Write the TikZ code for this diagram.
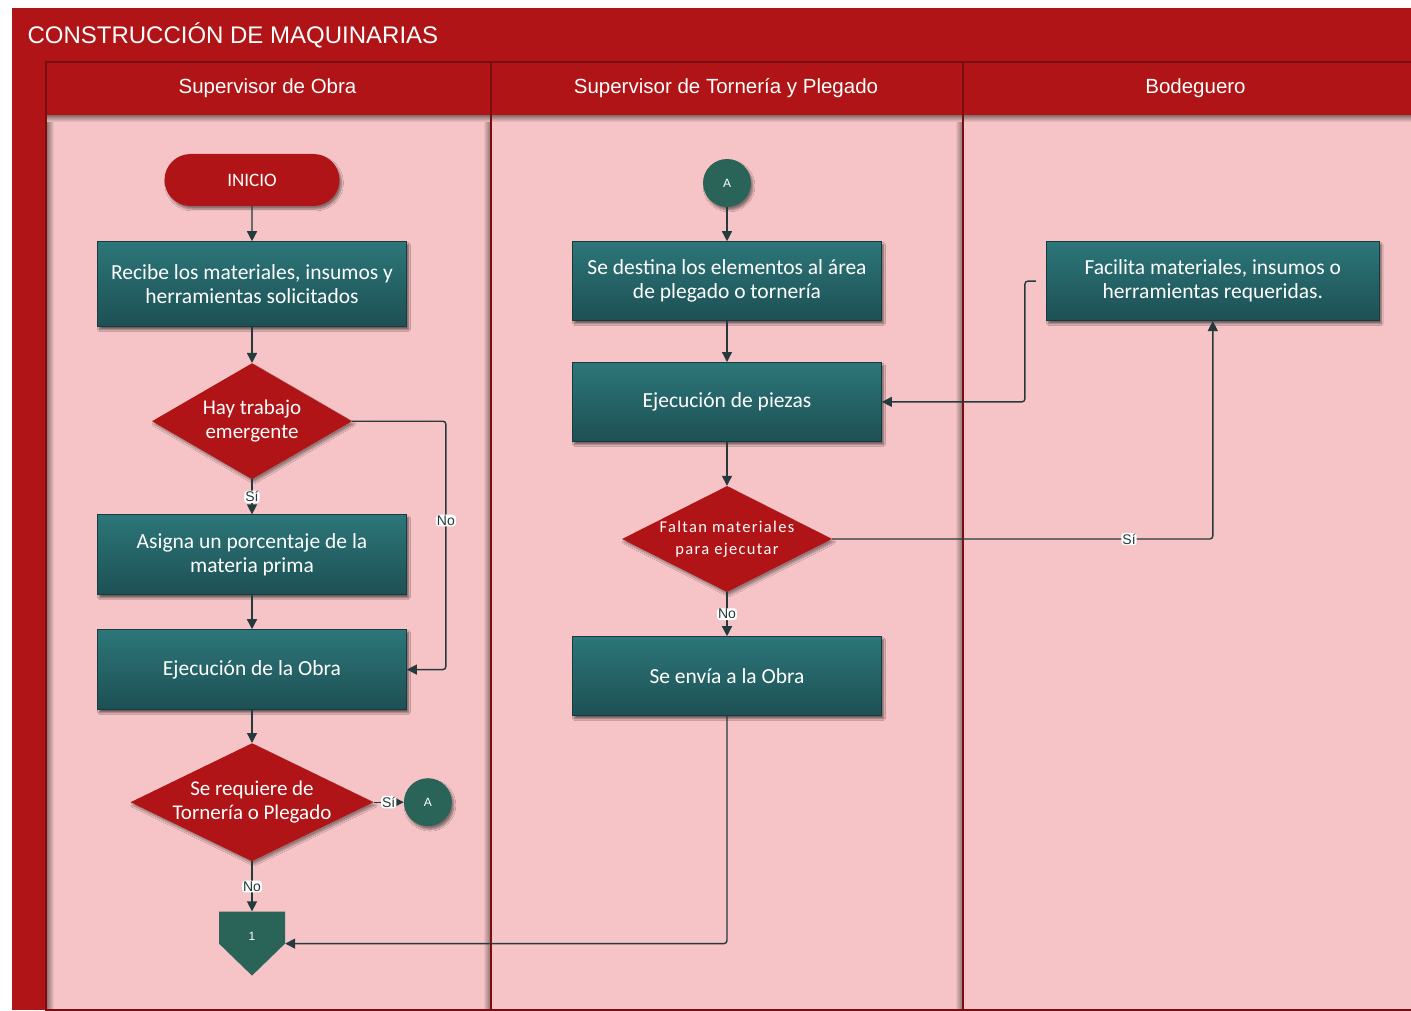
\documentclass[tikz,border=0pt]{standalone}
\usepackage{fontspec}
\setmainfont{Carlito}
\newfontfamily\arialf{Liberation Sans}
\usetikzlibrary{arrows.meta, positioning, shapes.geometric, shapes.misc, shadows.blur}

\definecolor{hdred}{RGB}{176,20,22}
\definecolor{laneline}{RGB}{120,14,16}
\definecolor{pinkbg}{RGB}{246,196,198}
\definecolor{tealtop}{RGB}{44,118,121}
\definecolor{tealbot}{RGB}{29,80,84}
\definecolor{tealedge}{RGB}{24,60,62}
\definecolor{circgreen}{RGB}{42,100,88}
\definecolor{flowline}{RGB}{36,58,60}

\begin{document}
\begin{tikzpicture}[x=1pt, y=-1pt,
    lanehead/.style={fill=hdred, text=white, minimum height=53pt, inner sep=0pt, font=\arialf\fontsize{20.5}{24}\selectfont},
    box/.style={draw=tealedge, line width=0.8pt, top color=tealtop, bottom color=tealbot, text=white, align=center,
        minimum width=309pt, minimum height=80pt, inner sep=0pt, font=\fontsize{21.5}{24}\selectfont,
        blur shadow={shadow xshift=2pt, shadow yshift=-3pt, shadow opacity=55, shadow blur steps=6}},
    decision/.style={diamond, aspect=2, fill=hdred, text=white, align=center, inner sep=-6pt,
        font=\fontsize{21}{24}\selectfont,
        blur shadow={shadow xshift=2pt, shadow yshift=-3pt, shadow opacity=40, shadow blur steps=6}},
    terminal/.style={rounded rectangle, fill=hdred, text=white, minimum width=175pt, minimum height=52pt,
        inner sep=0pt, font=\fontsize{19}{22}\selectfont,
        blur shadow={shadow xshift=2pt, shadow yshift=-3pt, shadow opacity=45, shadow blur steps=6}},
    connector/.style={circle, fill=circgreen, minimum size=48pt, inner sep=0pt, text=white,
        font=\arialf\fontsize{12}{14}\selectfont,
        blur shadow={shadow xshift=2pt, shadow yshift=-3pt, shadow opacity=45, shadow blur steps=6}},
    offpage/.style={fill=pinkbg, minimum width=66pt, minimum height=64pt, inner sep=0pt, text=white,
        font=\arialf\fontsize{12}{14}\selectfont,
        path picture={\fill[circgreen] (path picture bounding box.north west) -- (path picture bounding box.north east)
            -- (path picture bounding box.east) -- (path picture bounding box.south) -- (path picture bounding box.west) -- cycle;}},
    arrow/.style={-{Triangle[length=10pt,width=10pt]}, line width=1.4pt, draw=flowline, rounded corners=3pt},
    lbl/.style={fill=white, text=flowline, inner sep=1pt, font=\arialf\fontsize{14}{15}\selectfont}
]
\useasboundingbox (0,0) rectangle (1411,1011);

% pool and lanes
\fill[pinkbg] (12,8) rectangle (1411,1010);
\fill[hdred] (12,8) rectangle (1411,62);
\node[anchor=west, text=white, font=\arialf\fontsize{24}{28}\selectfont] (title) at (24,35) {CONSTRUCCIÓN DE MAQUINARIAS};
\fill[hdred] (12,62) rectangle (45,1010);
\shade[left color=pinkbg!55!black, right color=pinkbg] (46,115) rectangle (54,1010);
\shade[left color=pinkbg, right color=pinkbg!60!black] (483,115) rectangle (490,1010);
\shade[left color=pinkbg, right color=pinkbg!60!black] (955,115) rectangle (962,1010);
\shade[top color=pinkbg!55!black, bottom color=pinkbg] (45,115) rectangle (1411,122);

\node[lanehead, minimum width=445pt] (lane1) at (267.5,88.5) {Supervisor de Obra};
\node[lanehead, minimum width=472pt] (lane2) at (726,88.5) {Supervisor de Tornería y Plegado};
\node[lanehead, minimum width=467pt] (lane3) at (1195.5,88.5) {Bodeguero};

\draw[laneline, line width=1.5pt] (45,62) -- (1411,62);
\draw[laneline, line width=2pt] (46,62) -- (46,1010);
\draw[laneline, line width=2pt] (491,62) -- (491,1010);
\draw[laneline, line width=2pt] (963,62) -- (963,1010);
\draw[laneline, line width=1.5pt] (45,1010) -- (1411,1010);

% Supervisor de Obra
\node[terminal] (inicio) at (252,180) {INICIO};
\node[box, below=35pt of inicio, minimum height=85pt] (recibe) {Recibe los materiales, insumos y\\herramientas solicitados};
\node[decision, below=36pt of recibe, minimum width=200pt, minimum height=116pt] (emerg) {Hay trabajo\\emergente};
\node[box, below=35pt of emerg] (asigna) {Asigna un porcentaje de la\\materia prima};
\node[box, below=34pt of asigna] (obra) {Ejecución de la Obra};
\node[decision, below=33pt of obra, minimum width=243pt, minimum height=118pt] (requiere) {Se requiere de\\Tornería o Plegado};
\node[connector, right=30pt of requiere] (conA) {A};
\node[offpage, below=50pt of requiere] (pag1) {\raisebox{3.5pt}[0pt][0pt]{1}};

% Supervisor de Tornería y Plegado
\node[connector] (conB) at (727,183) {A};
\node[box, below=34pt of conB, minimum height=79pt] (destina) {Se destina los elementos al área\\de plegado o tornería};
\node[box, below=41pt of destina, minimum height=79pt] (piezas) {Ejecución de piezas};
\node[decision, below=44pt of piezas, minimum width=210pt, minimum height=106pt,
    font=\addfontfeature{LetterSpace=8}\fontsize{16.5}{22}\selectfont] (faltan) {Faltan materiales\\para ejecutar};
\node[box, below=44pt of faltan, minimum height=79pt] (envia) {Se envía a la Obra};

% Bodeguero
\node[box, right=164pt of destina, minimum width=333pt, minimum height=79pt] (facilita) {Facilita materiales, insumos o\\herramientas requeridas.};

\draw[arrow] (inicio) -- (recibe);
\draw[arrow] (recibe) -- (emerg);
\draw[arrow] (emerg) -- node[lbl] {Sí} (asigna);
\draw[arrow] (emerg.east) -| ([xshift=39pt]obra.east) node[lbl, pos=0.7] {No} -- (obra.east);
\draw[arrow] (asigna) -- (obra);
\draw[arrow] (obra) -- (requiere);
\draw[arrow] (requiere) -- node[lbl] {Sí} (conA);
\draw[arrow] (requiere) -- node[lbl] {No} (pag1);

\draw[arrow] (conB) -- (destina);
\draw[arrow] (destina) -- (piezas);
\draw[arrow] (piezas) -- (faltan);
\draw[arrow] (faltan) -- node[lbl] {No} (envia);
\draw[arrow] (faltan.east) -| node[lbl, pos=0.39] {Sí} (facilita.south);
\draw[arrow] ([xshift=-10pt]facilita.west) -- ([xshift=-21pt]facilita.west) |- (piezas.east);
\draw[arrow] (envia.south) |- (pag1.east);

\end{tikzpicture}
\end{document}
